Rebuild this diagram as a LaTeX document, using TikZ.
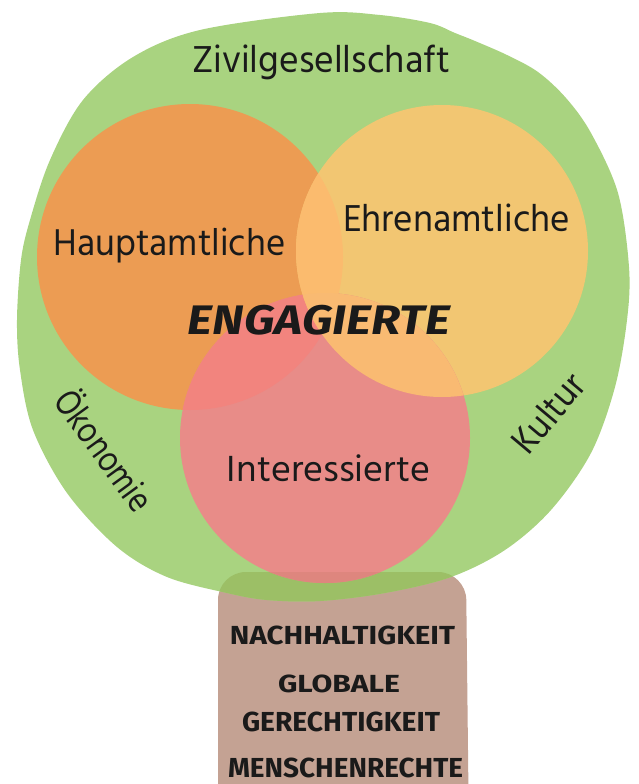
\documentclass[tikz,border=0pt]{standalone}
\usepackage{fontspec}
\usepackage{graphicx}
\newfontfamily\hindfont{Hind Siliguri}
\newfontfamily\brushfont{Fira Sans}
\definecolor{cgreen}{HTML}{A9D380}
\definecolor{cgreendark}{HTML}{9CBF66}
\definecolor{ctrunk}{HTML}{C4A293}
\definecolor{corange}{HTML}{EC9C53}
\definecolor{clight}{HTML}{F2C672}
\definecolor{cpink}{HTML}{E88C88}
\definecolor{cOE}{HTML}{FBBB6E}
\definecolor{cOP}{HTML}{F2847E}
\definecolor{cEP}{HTML}{F9BA72}
\definecolor{cPT}{HTML}{DE867E}
\definecolor{ink}{HTML}{1A1A1A}
\newcommand\fitto[3]{\resizebox*{#1pt}{#2pt}{#3}}
\tikzset{
  lbl/.style={inner sep=0pt, text=ink, font=\hindfont\fontsize{36}{40}\selectfont},
  brushlbl/.style={inner sep=0pt, text=ink, font=\brushfont\bfseries\itshape\fontsize{40}{44}\selectfont},
  trunklbl/.style={inner sep=0pt, text=ink, font=\brushfont\bfseries\fontsize{26}{30}\selectfont}
}
\begin{document}
\begin{tikzpicture}[x=1pt,y=-1pt]
\useasboundingbox (0,0) rectangle (638,784);
% centres
\coordinate (O) at (190,257);
\coordinate (E) at (442,251);
\coordinate (P) at (325,438);
% trunk
\fill[ctrunk, rounded corners=28pt] (218,840) -- (218,572) -- (466,572) -- (469,840) -- cycle;
% green crown
\fill[cgreen] plot[smooth cycle, tension=0.55] coordinates {
 (320,13) (380,15) (430,23) (455,33) (475,41) (507,55) (538,72) (566,98) (591,133) (618,193) (629,267) (627,320)
 (615,387) (591,453) (551,510) (505,550) (451,577) (385,593) (320,601) (267,600) (227,593) (167,577)
 (117,547) (67,493) (33,430) (20,370) (17,320) (21,260) (30,220) (50,160) (83,100) (133,57) (200,30)};
\begin{scope}
 \clip[rounded corners=28pt] (218,840) -- (218,572) -- (466,572) -- (469,840) -- cycle;
 \fill[cgreendark] plot[smooth cycle, tension=0.55] coordinates {
 (320,13) (380,15) (430,23) (455,33) (475,41) (507,55) (538,72) (566,98) (591,133) (618,193) (629,267) (627,320)
 (615,387) (591,453) (551,510) (505,550) (451,577) (385,593) (320,601) (267,600) (227,593) (167,577)
 (117,547) (67,493) (33,430) (20,370) (17,320) (21,260) (30,220) (50,160) (83,100) (133,57) (200,30)};
\end{scope}
% circles
\fill[corange] (O) circle[radius=153];
\fill[clight] (E) circle[radius=146];
\fill[cpink] (P) circle[radius=145];
\begin{scope}
 \clip (O) circle[radius=153];
 \fill[cOP] (P) circle[radius=145];
 \fill[cOE] (E) circle[radius=146];
\end{scope}
\begin{scope}
 \clip (E) circle[radius=146];
 \fill[cEP] (P) circle[radius=145];
\end{scope}
\begin{scope}
 \clip[rounded corners=28pt] (218,840) -- (218,572) -- (466,572) -- (469,840) -- cycle;
 \fill[cPT] (P) circle[radius=145];
\end{scope}
% labels
\node[lbl] (ziv) at (321,62.5) {\fitto{258}{35}{Zivilgesellschaft}};
\node[lbl] (haupt) at (169.5,245.5) {\fitto{232}{35}{Hauptamtliche}};
\node[lbl] (ehren) at (456.5,218) {\fitto{227}{28}{Ehrenamtliche}};
\node[lbl] (inter) at (328.5,468.5) {\fitto{203}{27}{Interessierte}};
\node[lbl, rotate=-54] (oeko) at (106.5,449) {\fitto{140}{32}{Ökonomie}};
\node[lbl, rotate=50] (kult) at (548,413) {\fitto{92}{27}{Kultur}};
\node[brushlbl] (eng) at (319,320) {\fitto{262}{30}{ENGAGIERTE}};
\node[trunklbl] (nach) at (342.5,635.5) {\fitto{225}{19}{NACHHALTIGKEIT}};
\node[trunklbl] (glob) at (339,684) {\fitto{122}{18}{GLOBALE}};
\node[trunklbl] (gere) at (341,722) {\fitto{198}{20}{GERECHTIGKEIT}};
\node[trunklbl] (mens) at (345.5,768) {\fitto{235}{20}{MENSCHENRECHTE}};
\end{tikzpicture}
\end{document}
